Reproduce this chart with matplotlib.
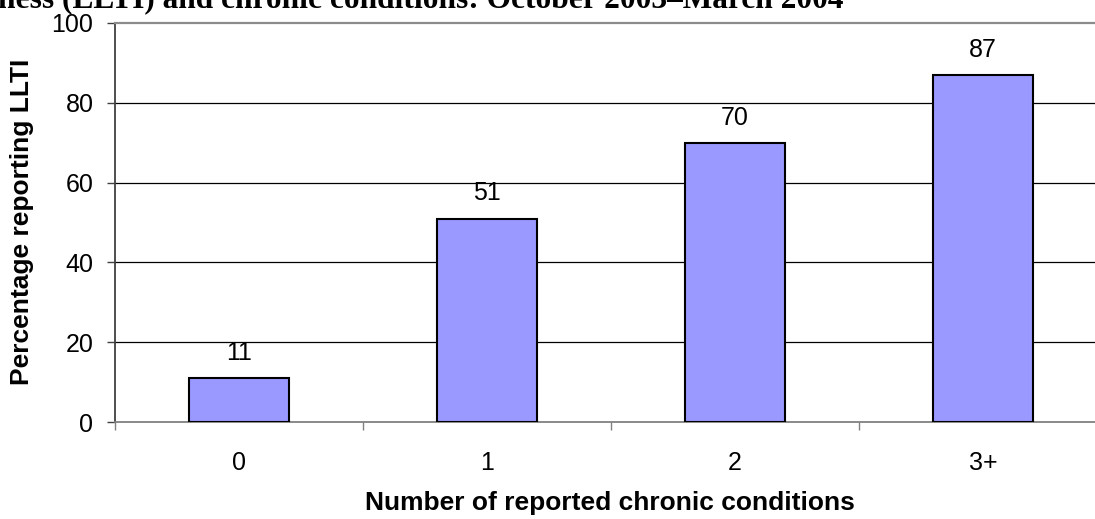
import matplotlib
matplotlib.use("Agg")
import matplotlib.pyplot as plt
from matplotlib.ticker import FixedLocator, NullFormatter

categories = ["0", "1", "2", "3+"]
values = [11, 51, 70, 87]
y_ticks = [0, 20, 40, 60, 80, 100]
title_text = "ness (LLTI) and chronic conditions: October 2003\u2013March 2004"
xlabel_text = "Number of reported chronic conditions"
ylabel_text = "Percentage reporting LLTI"

W, H = 1095, 519
fig = plt.figure(figsize=(W / 100, H / 100), dpi=100)
plt.rcParams['font.family'] = ['Liberation Sans', 'DejaVu Sans']

# plot area: left 115px, right ~1107px (beyond crop), y0 at 422px, y100 at 23px
left, right, bottom, top = 115, 1107, 422, 23
ax = fig.add_axes([left / W, (H - bottom) / H, (right - left) / W, (bottom - top) / H])

x = list(range(len(categories)))
ax.bar(x, values, width=0.4, color="#9999FF", edgecolor="black", linewidth=1.5, zorder=3)

ax.set_xlim(-0.5, len(categories) - 0.5)
ax.set_ylim(0, 100)

# y axis
ax.set_yticks(y_ticks)
ax.set_yticklabels([str(v) for v in y_ticks])
ax.tick_params(axis="y", direction="out", length=6, width=1, color="#404040",
               labelsize=18, pad=9.5)
for v in y_ticks[1:-1]:
    ax.axhline(v, color="black", linewidth=0.9, zorder=1)

# x axis: major ticks at category boundaries, labels at category centres
ax.xaxis.set_major_locator(FixedLocator([i - 0.5 for i in x]))
ax.xaxis.set_major_formatter(NullFormatter())
ax.xaxis.set_minor_locator(FixedLocator(x))
ax.set_xticklabels(categories, minor=True)
ax.tick_params(axis="x", which="major", direction="out", length=6, width=1, color="#808080")
ax.tick_params(axis="x", which="minor", length=0, labelsize=18, pad=21)

ax.spines["left"].set_color("#404040")
ax.spines["left"].set_linewidth(1.3)
ax.spines["bottom"].set_color("#808080")
ax.spines["bottom"].set_linewidth(1.3)
ax.spines["top"].set_color("#8c8c8c")
ax.spines["top"].set_linewidth(1.6)
ax.spines["right"].set_visible(False)

for xi, v in zip(x, values):
    ax.annotate(str(v), (xi, v), xytext=(0, 13), textcoords="offset points",
                ha="center", va="baseline", fontsize=18, color="black")

fig.text(610 / W, 1 - 503 / H, xlabel_text, ha="center", va="center",
         fontsize=19, fontweight="bold")
fig.text(22 / W, 1 - 222 / H, ylabel_text, ha="center", va="center",
         rotation=90, fontsize=19, fontweight="bold")
fig.text(-2 / W, 1 - 7.5 / H, title_text, ha="left", va="baseline",
         fontsize=22.6, fontweight="bold", family="Liberation Serif")

fig.savefig("out.png", dpi=100)
